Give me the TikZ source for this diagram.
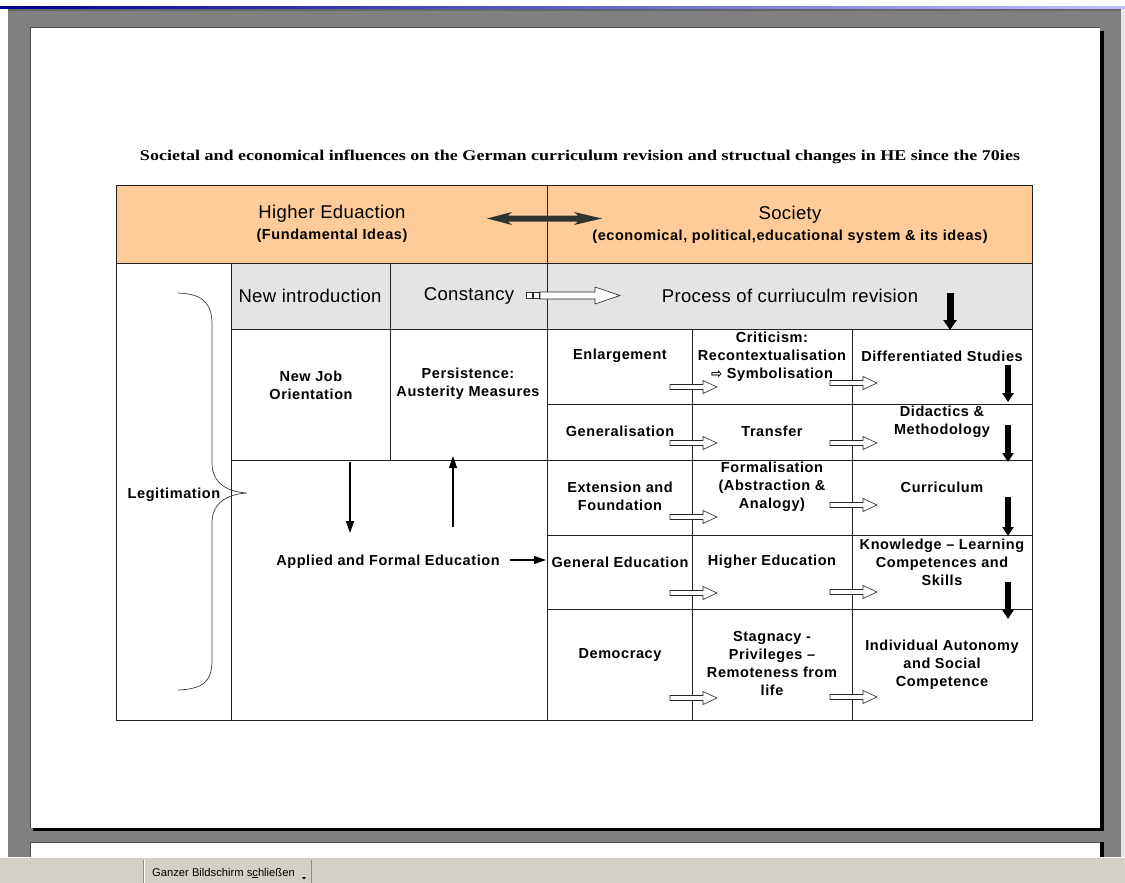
\documentclass[tikz,border=0pt]{standalone}
\usepackage{fontspec}
\setmainfont{Liberation Sans}
\newfontfamily\titlefont{Liberation Serif}
\newfontfamily\symfont{DejaVu Sans}
\usetikzlibrary{arrows.meta}
\definecolor{hdr}{HTML}{FFCC99}
\definecolor{rowgray}{HTML}{E4E4E4}
\definecolor{framegray}{HTML}{808080}
\definecolor{taskbar}{HTML}{D4D0C8}
\definecolor{darkarrow}{HTML}{2E3430}
\definecolor{gridline}{HTML}{222222}
\tikzset{
  grid/.style={draw=gridline,line width=0.9pt},
  big/.style={font=\fontsize{18.5}{21}\selectfont\addfontfeature{LetterSpace=2},inner sep=0pt},
  cell/.style={font=\bfseries\fontsize{14.5}{18}\selectfont\addfontfeature{LetterSpace=4},align=center,inner sep=0pt},
  thinarrow/.style={line width=1.3pt,-{Triangle[width=8pt,length=12pt]}},
  thickarrow/.style={line width=7pt,-{Triangle[width=13pt,length=10pt]}},
  colarrow/.style={line width=5.5pt,-{Triangle[width=11pt,length=9pt]}},
  wblock/.pic={\draw[fill=white,draw=black!85,line width=0.6pt]
     (0,-2.5) -- (33,-2.5) -- (33,-6.5) -- (47,0) -- (33,6.5) -- (33,2.5) -- (0,2.5) -- cycle;}
}
\begin{document}
\begin{tikzpicture}[x=1pt,y=-1pt]
\useasboundingbox (0,0) rectangle (1125,883);
% ---------- screen background ----------
\fill[white] (0,0) rectangle (1125,883);
\shade[left color=blue!55!black,right color=blue!25!white] (0,7) rectangle (1125,9);
\fill[framegray] (8,9) rectangle (1121,857);
\fill[black!60] (8,9) rectangle (1121,11);
\fill[black!10] (1121,9) rectangle (1125,857);
% main page
\fill[black] (33,31) rectangle (1103.5,831);
\fill[white] (30,28) rectangle (1100,828);
\draw[black!70,line width=1pt] (30,828) -- (30,28) -- (1100,28);
% second page
\fill[black] (1100,842) rectangle (1103.5,857);
\fill[white] (30,842) rectangle (1100,857);
\draw[black!70,line width=1pt] (30,857) -- (30,842) -- (1100,842);
% taskbar
\fill[taskbar] (0,857) rectangle (1125,883);
\draw[white,line width=1pt] (0,857.5) -- (1125,857.5);
\draw[black!45,line width=0.8pt] (143,860) -- (143,883);
\draw[white,line width=0.8pt] (144.5,860) -- (144.5,883);
\draw[black!45,line width=0.8pt] (311,860) -- (311,883);
\node[font=\fontsize{11.2}{12}\selectfont,anchor=west,inner sep=0pt] (btn) at (152,873)
  {Ganzer Bildschirm s\underline{c}hließen};
\fill[black] (302,877) -- (306,877) -- (304,879.5) -- cycle;

% ---------- title ----------
\node[anchor=base,inner sep=0pt] (title) at (580,160)
  {\resizebox{880pt}{10.5pt}{\titlefont\bfseries Societal and economical influences on the German curriculum revision and structual changes in HE since the 70ies}};

% ---------- table fills ----------
\fill[hdr] (116,185) rectangle (1032,263);
\fill[rowgray] (231,263) rectangle (1032,329);
% ---------- table lines ----------
\draw[grid] (116,185) rectangle (1032,720);
\draw[grid] (547,185) -- (547,720);
\draw[grid] (116,263) -- (1032,263);
\draw[grid] (231,329) -- (1032,329);
\draw[grid] (231,263) -- (231,720);
\draw[grid] (390,263) -- (390,460);
\draw[grid] (231,460) -- (1032,460);
\draw[grid] (692,329) -- (692,720);
\draw[grid] (852,329) -- (852,720);
\draw[grid] (547,404) -- (1032,404);
\draw[grid] (547,535) -- (1032,535);
\draw[grid] (547,609) -- (1032,609);

% ---------- header texts ----------
\node[big] (he) at (332,214) {Higher Eduaction};
\node[cell] (hesub) at (332,236) {(Fundamental Ideas)};
\node[big] (soc) at (790,215) {Society};
\node[cell] (socsub) at (790,237) {(economical, political,educational system \& its ideas)};
% ---------- second row ----------
\node[big] (newintro) at (310,296) {New introduction};
\node[big] (constancy) at (469,296) {Constancy};
\node[big] (process) at (790,296) {Process of curriuculm revision};
% ---------- left part ----------
\node[cell] (newjob) at (311,385) {New Job\\Orientation};
\node[cell] (persist) at (468,384) {Persistence:\\Austerity Measures};
\node[cell] (legit) at (174,495) {Legitimation};
\node[cell] (applied) at (388,562) {Applied and Formal Education};
% ---------- right grid ----------
\node[cell] (enl) at (620,356) {Enlargement};
\node[cell] (crit) at (772,357) {Criticism:\\Recontextualisation\\{\symfont\bfseries\fontsize{13.5}{18}\selectfont ⇨} Symbolisation};
\node[cell] (diff) at (942,356) {Differentiated Studies};
\node[cell] (gen) at (620,431) {Generalisation};
\node[cell] (transfer) at (772,431) {Transfer};
\node[cell] (didac) at (942,422) {Didactics \&\\Methodology};
\node[cell] (ext) at (620,496) {Extension and\\Foundation};
\node[cell] (formal) at (772,487) {Formalisation\\(Abstraction \&\\Analogy)};
\node[cell] (curr) at (942,487) {Curriculum};
\node[cell] (gened) at (620,562) {General Education};
\node[cell] (highered) at (772,562) {Higher Education};
\node[cell] (know) at (942,562) {Knowledge – Learning\\Competences and\\Skills};
\node[cell] (demo) at (620,655) {Democracy};
\node[cell] (stag) at (772,664) {Stagnacy -\\Privileges –\\Remoteness from\\life};
\node[cell] (indiv) at (942,665) {Individual Autonomy\\and Social\\Competence};

% ---------- brace ----------
\draw[black!75,line width=0.7pt] (178,293) .. controls (205,294) and (212,305) .. (212,325)
  -- (212,463) .. controls (212,485) and (230,492) .. (247,493)
  .. controls (230,494) and (212,501) .. (212,523)
  -- (212,660) .. controls (212,680) and (205,689) .. (178,690);

% ---------- header double arrow ----------
\fill[darkarrow] (487,218.5) -- (512,212) -- (508,215.5) -- (578,215.5) -- (574,212)
  -- (602,218.5) -- (574,225) -- (578,221.5) -- (508,221.5) -- (512,225) -- cycle;

% ---------- constancy arrow ----------
\draw[black!80,fill=white,line width=0.6pt] (526,292.5) rectangle (532,298.5);
\draw[black!80,fill=white,line width=0.6pt] (533,292.5) rectangle (539,298.5);
\draw[black!85,fill=white,line width=0.6pt] (540,292) -- (595,292) -- (595,287) -- (620,295.5)
  -- (595,304) -- (595,299) -- (540,299) -- cycle;

% ---------- thick black arrows ----------
\coordinate (p1) at (950,293); \coordinate (p2) at (950,330);
\draw[thickarrow] (p1) -- (p2);
\coordinate (d1a) at (1008,365); \coordinate (d1b) at (1008,402);
\coordinate (d2a) at (1008,425); \coordinate (d2b) at (1008,462);
\coordinate (d3a) at (1008,497); \coordinate (d3b) at (1008,536);
\coordinate (d4a) at (1008,582); \coordinate (d4b) at (1008,619);
\draw[colarrow] (d1a) -- (d1b);
\draw[colarrow] (d2a) -- (d2b);
\draw[colarrow] (d3a) -- (d3b);
\draw[colarrow] (d4a) -- (d4b);

% ---------- thin arrows left ----------
\coordinate (a1) at (350,462); \coordinate (a2) at (350,533);
\coordinate (b1) at (453,527); \coordinate (b2) at (453,456);
\coordinate (c1) at (510,560); \coordinate (c2) at (546,560);
\draw[thinarrow] (a1) -- (a2);
\draw[thinarrow] (b1) -- (b2);
\draw[thinarrow] (c1) -- (c2);

% ---------- white block arrows ----------
\pic at (670,387) {wblock};
\pic at (830,383) {wblock};
\pic at (670,443) {wblock};
\pic at (830,443) {wblock};
\pic at (670,517) {wblock};
\pic at (830,505) {wblock};
\pic at (670,593) {wblock};
\pic at (830,592) {wblock};
\pic at (670,698) {wblock};
\pic at (830,697) {wblock};
\end{tikzpicture}
\end{document}
